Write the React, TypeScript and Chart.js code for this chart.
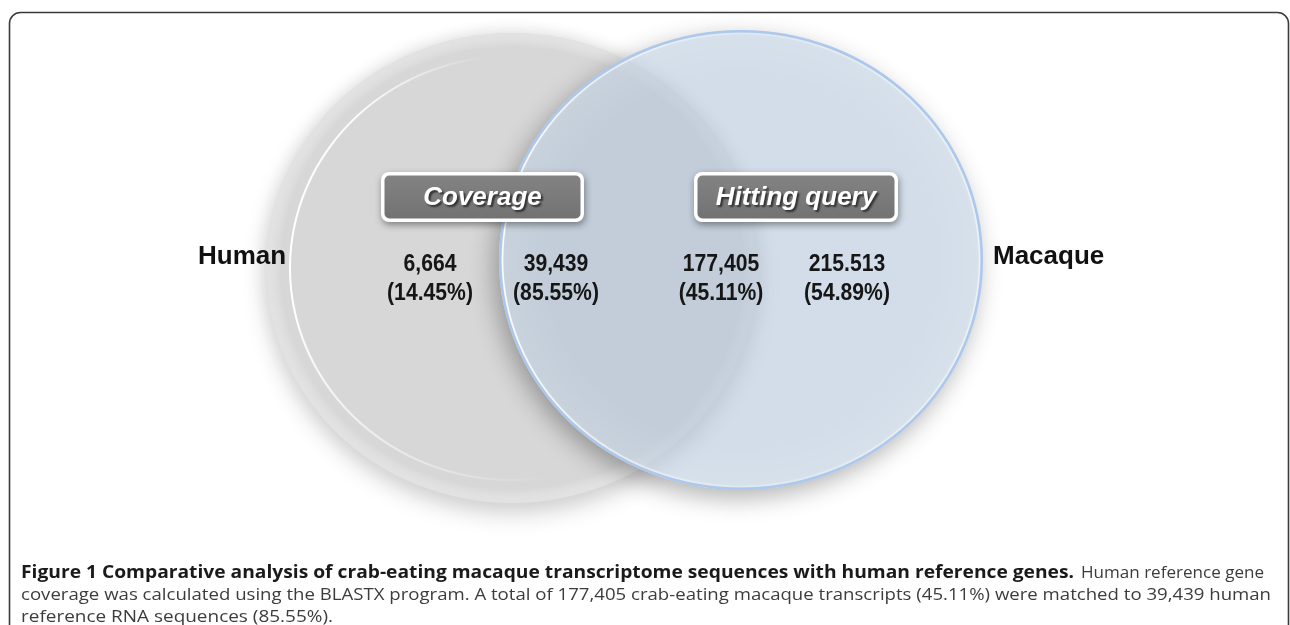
import React, { useEffect, useRef } from "react";
import { Chart, registerables } from "chart.js";

Chart.register(...registerables);

const W = 1290;
const H = 625;

// ---------- data ----------
const setLabels = ["Human", "Macaque"];
const groupLabels = ["Coverage", "Hitting query"];
const regionCounts = ["6,664", "39,439", "177,405", "215.513"];
const regionPercents = ["(14.45%)", "(85.55%)", "(45.11%)", "(54.89%)"];
const captionTitle =
  "Figure 1 Comparative analysis of crab-eating macaque transcriptome sequences with human reference genes.";
const captionLines = [
  "Human reference gene",
  "coverage was calculated using the BLASTX program. A total of 177,405 crab-eating macaque transcripts (45.11%) were matched to 39,439 human",
  "reference RNA sequences (85.55%).",
];

// ---------- layout (chart units map 1:1 onto canvas pixels) ----------
const circleGeom = [
  { x: 512, y: 268, rx: 246, ry: 235 },
  { x: 741, y: 260, rx: 242, ry: 230 },
];
const regionX = [430, 556, 721, 847];
const regionLineY = [265, 294];
const boxGeom = [
  { x0: 381, x1: 584 },
  { x0: 694, x1: 898 },
];
const boxY = [172, 222];
const setLabelGeom = [
  { x: 198, y: 257 },
  { x: 993, y: 257 },
];
const captionGeom = {
  x: 21,
  y: [573, 595, 617],
  right: [1264, 1271, 333],
  titleEnd: 1074,
  regStart: 1081,
};

function scaledText(
  ctx: CanvasRenderingContext2D,
  text: string,
  x: number,
  y: number,
  font: string,
  color: string,
  sx: number,
  align: "left" | "center"
) {
  ctx.save();
  ctx.font = font;
  ctx.fillStyle = color;
  ctx.textBaseline = "middle";
  ctx.textAlign = align;
  ctx.translate(x, y);
  ctx.scale(sx, 1);
  ctx.fillText(text, 0, 0);
  ctx.restore();
}

function castShadow(
  ctx: CanvasRenderingContext2D,
  x: number,
  y: number,
  rx: number,
  ry: number,
  color: string,
  blur: number,
  ox: number,
  oy: number,
  excludeInside: boolean
) {
  ctx.save();
  if (excludeInside) {
    ctx.beginPath();
    ctx.rect(0, 0, W, H);
    ctx.ellipse(x, y, rx, ry, 0, 0, Math.PI * 2, true);
    ctx.clip("evenodd");
  }
  const off = 5000;
  ctx.shadowColor = color;
  ctx.shadowBlur = blur;
  ctx.shadowOffsetX = ox + off;
  ctx.shadowOffsetY = oy;
  ctx.beginPath();
  ctx.ellipse(x - off, y, rx, ry, 0, 0, Math.PI * 2);
  ctx.fillStyle = "#000";
  ctx.fill();
  ctx.restore();
}

function ellipseOf(chart: any, index: number) {
  const el = chart.getDatasetMeta(index).data[0];
  const sx = chart.scales.x;
  const g = circleGeom[index];
  const rx = Math.abs(sx.getPixelForValue(g.rx) - sx.getPixelForValue(0));
  const ry = el.options.radius;
  return { x: el.x, y: el.y, rx, ry };
}

const vennPlugin = {
  id: "venn",
  beforeDraw(chart: any) {
    const ctx: CanvasRenderingContext2D = chart.ctx;
    ctx.save();
    ctx.fillStyle = "#ffffff";
    ctx.fillRect(0, 0, W, H);
    ctx.strokeStyle = "#3a3a3a";
    ctx.lineWidth = 1.6;
    ctx.beginPath();
    ctx.roundRect(9.5, 12.5, 1279, 700, 11);
    ctx.stroke();
    ctx.restore();
  },
  beforeDatasetDraw(chart: any, args: any) {
    const ctx: CanvasRenderingContext2D = chart.ctx;
    const e = ellipseOf(chart, args.index);
    if (args.index === 0) {
      castShadow(ctx, e.x, e.y, e.rx, e.ry, "rgba(0,0,0,0.20)", 24, 0, 9, false);
      castShadow(ctx, e.x, e.y, e.rx - 4, e.ry - 4, "rgba(212,212,212,1)", 18, 0, 0, false);
    } else {
      castShadow(ctx, e.x, e.y, e.rx, e.ry, "rgba(0,0,0,0.30)", 24, -5, 8, true);
    }
    // stretch the point horizontally into the ellipse
    ctx.save();
    ctx.translate(e.x, 0);
    ctx.scale(e.rx / e.ry, 1);
    ctx.translate(-e.x, 0);
  },
  afterDatasetDraw(chart: any, args: any) {
    const ctx: CanvasRenderingContext2D = chart.ctx;
    ctx.restore();
    const { x, y, rx, ry } = ellipseOf(chart, args.index);
    const k = rx / ry;
    ctx.save();
    if (args.index === 0) {
      ctx.save();
      ctx.translate(x, 0);
      ctx.scale(k, 1);
      ctx.translate(-x, 0);
      const eg = ctx.createRadialGradient(x, y, ry - 14, x, y, ry);
      eg.addColorStop(0, "rgba(255,255,255,0)");
      eg.addColorStop(1, "rgba(235,235,235,0.55)");
      ctx.fillStyle = eg;
      ctx.beginPath();
      ctx.arc(x, y, ry, 0, Math.PI * 2);
      ctx.fill();
      ctx.restore();
      // inner white highlight ring, brightest on the left, fading at both ends
      const g = ctx.createConicGradient(0, x, y);
      g.addColorStop(0, "rgba(255,255,255,0)");
      g.addColorStop(80 / 360, "rgba(255,255,255,0)");
      g.addColorStop(110 / 360, "rgba(255,255,255,0.35)");
      g.addColorStop(170 / 360, "rgba(255,255,255,1)");
      g.addColorStop(225 / 360, "rgba(255,255,255,0.95)");
      g.addColorStop(262 / 360, "rgba(255,255,255,0)");
      g.addColorStop(1, "rgba(255,255,255,0)");
      ctx.strokeStyle = g;
      ctx.lineWidth = 2;
      ctx.beginPath();
      ctx.ellipse(x, y, rx - 24, ry - 23, 0, Math.PI * 0.44, Math.PI * 1.5);
      ctx.stroke();
    } else {
      ctx.save();
      ctx.translate(x, 0);
      ctx.scale(k, 1);
      ctx.translate(-x, 0);
      const rg = ctx.createRadialGradient(x, y, ry * 0.8, x, y, ry);
      rg.addColorStop(0, "rgba(255,255,255,0)");
      rg.addColorStop(0.85, "rgba(255,255,255,0.10)");
      rg.addColorStop(1, "rgba(255,255,255,0.18)");
      ctx.fillStyle = rg;
      ctx.beginPath();
      ctx.arc(x, y, ry, 0, Math.PI * 2);
      ctx.fill();
      ctx.restore();
      ctx.strokeStyle = "rgba(170,198,236,0.95)";
      ctx.lineWidth = 2.5;
      ctx.beginPath();
      ctx.ellipse(x, y, rx - 1.2, ry - 1.2, 0, 0, Math.PI * 2);
      ctx.stroke();
      const g = ctx.createLinearGradient(x - rx, y, x + rx, y);
      g.addColorStop(0, "rgba(255,255,255,0.95)");
      g.addColorStop(0.5, "rgba(255,255,255,0.2)");
      g.addColorStop(1, "rgba(255,255,255,0.5)");
      ctx.strokeStyle = g;
      ctx.lineWidth = 1.6;
      ctx.beginPath();
      ctx.ellipse(x, y, rx - 3.5, ry - 3.5, 0, 0, Math.PI * 2);
      ctx.stroke();
    }
    ctx.restore();
  },
  afterDatasetsDraw(chart: any) {
    const ctx: CanvasRenderingContext2D = chart.ctx;
    const sx = chart.scales.x;
    const sy = chart.scales.y;
    const px = (v: number) => sx.getPixelForValue(v);
    const py = (v: number) => sy.getPixelForValue(v);

    groupLabels.forEach((label, i) => {
      const x0 = px(boxGeom[i].x0);
      const x1 = px(boxGeom[i].x1);
      const y0 = py(boxY[0]);
      const y1 = py(boxY[1]);
      ctx.save();
      ctx.shadowColor = "rgba(0,0,0,0.40)";
      ctx.shadowBlur = 7;
      ctx.shadowOffsetX = 1;
      ctx.shadowOffsetY = 3;
      ctx.fillStyle = "#ffffff";
      ctx.beginPath();
      ctx.roundRect(x0, y0, x1 - x0, y1 - y0, 8);
      ctx.fill();
      ctx.restore();
      ctx.save();
      const g = ctx.createLinearGradient(0, y0, 0, y1);
      g.addColorStop(0, "#848484");
      g.addColorStop(1, "#717171");
      ctx.fillStyle = g;
      ctx.beginPath();
      ctx.roundRect(x0 + 3.5, y0 + 3.5, x1 - x0 - 7, y1 - y0 - 7, 5);
      ctx.fill();
      ctx.restore();
      ctx.save();
      ctx.shadowColor = "rgba(0,0,0,0.6)";
      ctx.shadowBlur = 2;
      ctx.shadowOffsetX = 2;
      ctx.shadowOffsetY = 2;
      scaledText(ctx, label, (x0 + x1) / 2, (y0 + y1) / 2 + 1, "italic bold 26px 'Liberation Sans'", "#ffffff", 1, "center");
      ctx.restore();
    });

    regionCounts.forEach((c, i) => {
      scaledText(ctx, c, px(regionX[i]), py(regionLineY[0]), "bold 23px 'Liberation Sans'", "#161616", 0.92, "center");
      scaledText(ctx, regionPercents[i], px(regionX[i]), py(regionLineY[1]), "bold 23px 'Liberation Sans'", "#161616", 0.92, "center");
    });

    setLabels.forEach((s, i) => {
      scaledText(ctx, s, px(setLabelGeom[i].x), py(setLabelGeom[i].y), "bold 26px 'Liberation Sans'", "#111111", 1, "left");
    });

    const boldFont = "bold 17px 'Open Sans'";
    const regFont = "17px 'Open Sans'";
    const cg = captionGeom;
    ctx.save();
    ctx.font = boldFont;
    const tw = ctx.measureText(captionTitle).width;
    scaledText(ctx, captionTitle, cg.x, cg.y[0], boldFont, "#1a1a1a", (cg.titleEnd - cg.x) / tw, "left");
    ctx.font = regFont;
    const l0w = ctx.measureText(captionLines[0]).width;
    scaledText(ctx, captionLines[0], cg.regStart, cg.y[0], regFont, "#3c3c3c", (cg.right[0] - cg.regStart) / l0w, "left");
    for (let i = 1; i < captionLines.length; i++) {
      ctx.font = regFont;
      const w = ctx.measureText(captionLines[i]).width;
      scaledText(ctx, captionLines[i], cg.x, cg.y[i], regFont, "#3c3c3c", (cg.right[i] - cg.x) / w, "left");
    }
    ctx.restore();
  },
};

export default function App() {
  const ref = useRef<HTMLCanvasElement | null>(null);
  useEffect(() => {
    if (!ref.current) return;
    const radiusPx = (i: number) => (c: any) => {
      const s = c.chart.scales.y;
      return Math.abs(s.getPixelForValue(circleGeom[i].ry) - s.getPixelForValue(0));
    };
    const chart = new Chart(ref.current, {
      type: "scatter",
      data: {
        datasets: [
          {
            label: setLabels[0],
            data: [{ x: circleGeom[0].x, y: circleGeom[0].y }],
            pointRadius: radiusPx(0),
            pointHoverRadius: radiusPx(0),
            pointBackgroundColor: "#d7d7d7",
            pointBorderWidth: 0,
            order: 2,
          },
          {
            label: setLabels[1],
            data: [{ x: circleGeom[1].x, y: circleGeom[1].y }],
            pointRadius: radiusPx(1),
            pointHoverRadius: radiusPx(1),
            pointBackgroundColor: "rgba(180,198,219,0.6)",
            pointBorderWidth: 0,
            order: 1,
          },
        ],
      },
      options: {
        responsive: false,
        animation: false,
        events: [],
        layout: { padding: 0 },
        scales: {
          x: { type: "linear", min: 0, max: W, display: false },
          y: { type: "linear", min: 0, max: H, reverse: true, display: false },
        },
        plugins: { legend: { display: false }, tooltip: { enabled: false }, title: { display: false } },
      },
      plugins: [vennPlugin],
    });
    return () => chart.destroy();
  }, []);
  return (
    <div style={{ position: "absolute", left: 0, top: 0, width: W, height: H }}>
      <canvas ref={ref} width={W} height={H} style={{ display: "block", width: W, height: H }} />
    </div>
  );
}
